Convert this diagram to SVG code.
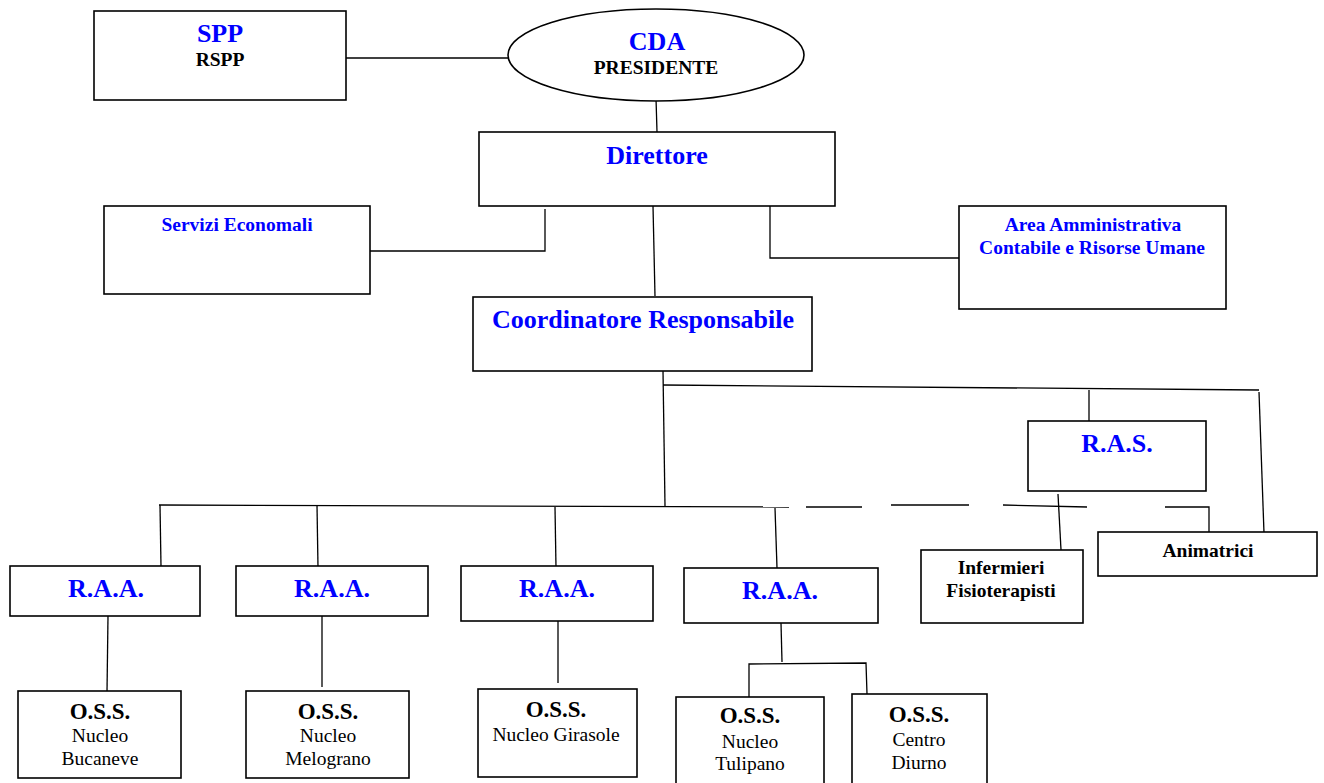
<svg xmlns="http://www.w3.org/2000/svg" width="1324" height="783" viewBox="0 0 1324 783">
<style>
.box{fill:#fff;stroke:#000;stroke-width:1.6}
.ln{stroke:#000;stroke-width:1.3;fill:none}
.t{font-family:"Liberation Serif","Times New Roman",serif;text-anchor:middle}
.big{font-size:26px;font-weight:bold;fill:#0000ff}
.mid{font-size:19.5px;font-weight:bold;fill:#0000ff}
.sub{font-size:19.5px;font-weight:bold;fill:#000}
.oss{font-size:23px;font-weight:bold;fill:#000}
.reg{font-size:19.5px;fill:#000}
</style>
<rect width="1324" height="783" fill="#fff"/>
<g id="connectors">
<line class="ln" x1="346" y1="58" x2="509" y2="58"/>
<line class="ln" x1="656" y1="98" x2="657" y2="132"/>
<polyline class="ln" points="545,209 545,251 370,251"/>
<line class="ln" x1="653" y1="206" x2="655" y2="296"/>
<polyline class="ln" points="770,206 770,258 959,258"/>
<line class="ln" x1="663" y1="371" x2="665" y2="506"/>
<line class="ln" x1="663" y1="385" x2="1259" y2="390"/>
<line class="ln" x1="1089" y1="390" x2="1089" y2="421"/>
<line class="ln" x1="1259" y1="392" x2="1264" y2="533"/>
<line class="ln" x1="159" y1="505" x2="789" y2="507"/>
<line class="ln" x1="806" y1="507" x2="862" y2="507"/>
<line class="ln" x1="891" y1="505" x2="969" y2="505"/>
<line class="ln" x1="1003" y1="505" x2="1087" y2="507"/>
<polyline class="ln" points="1165,507 1209,507 1209,533"/>
<line class="ln" x1="1058" y1="494" x2="1061" y2="550"/>
<line class="ln" x1="160" y1="505" x2="161" y2="566"/>
<line class="ln" x1="317" y1="505" x2="318" y2="568"/>
<line class="ln" x1="555" y1="507" x2="556" y2="568"/>
<line class="ln" x1="775" y1="508" x2="777" y2="568"/>
<line class="ln" x1="108" y1="616" x2="107" y2="692"/>
<line class="ln" x1="322" y1="616" x2="322" y2="687"/>
<line class="ln" x1="558" y1="621" x2="558" y2="683"/>
<line class="ln" x1="781" y1="623" x2="782" y2="662"/>
<polyline class="ln" points="749,697 749,664 866,663 867,694"/>
</g>
<g id="spp"><rect class="box" x="94" y="11" width="252" height="89"/>
<text class="t big" x="220" y="42">SPP</text><text class="t sub" x="220" y="66">RSPP</text></g>
<g id="cda"><ellipse class="box" cx="656" cy="55" rx="148" ry="46"/>
<text class="t big" x="657" y="50">CDA</text><text class="t sub" x="656" y="74">PRESIDENTE</text></g>
<g id="direttore"><rect class="box" x="479" y="132" width="356" height="74"/>
<text class="t big" x="657" y="164">Direttore</text></g>
<g id="servizi"><rect class="box" x="104" y="206" width="266" height="88"/>
<text class="t mid" x="237" y="231">Servizi Economali</text></g>
<g id="area"><rect class="box" x="959" y="206" width="267" height="103"/>
<text class="t mid" x="1093" y="231">Area Amministrativa</text><text class="t mid" x="1092" y="254">Contabile e Risorse Umane</text></g>
<g id="coordinatore"><rect class="box" x="473" y="297" width="339" height="74"/>
<text class="t big" x="643" y="328">Coordinatore Responsabile</text></g>
<g id="ras"><rect class="box" x="1028" y="421" width="178" height="70"/>
<text class="t big" x="1117" y="452">R.A.S.</text></g>
<g id="animatrici"><rect class="box" x="1098" y="532" width="219" height="44"/>
<text class="t sub" x="1208" y="557">Animatrici</text></g>
<g id="infermieri"><rect class="box" x="921" y="550" width="162" height="73"/>
<text class="t sub" x="1001" y="574">Infermieri</text><text class="t sub" x="1001" y="597">Fisioterapisti</text></g>
<g id="raa1"><rect class="box" x="10" y="566" width="190" height="50"/>
<text class="t big" x="106" y="597">R.A.A.</text></g>
<g id="raa2"><rect class="box" x="236" y="566" width="192" height="50"/>
<text class="t big" x="332" y="597">R.A.A.</text></g>
<g id="raa3"><rect class="box" x="461" y="566" width="192" height="55"/>
<text class="t big" x="557" y="597">R.A.A.</text></g>
<g id="raa4"><rect class="box" x="684" y="568" width="194" height="55"/>
<text class="t big" x="780" y="599">R.A.A.</text></g>
<g id="oss1"><rect class="box" x="18" y="691" width="163" height="87"/>
<text class="t oss" x="100" y="719">O.S.S.</text><text class="t reg" x="100" y="742">Nucleo</text><text class="t reg" x="100" y="765">Bucaneve</text></g>
<g id="oss2"><rect class="box" x="246" y="691" width="163" height="87"/>
<text class="t oss" x="328" y="719">O.S.S.</text><text class="t reg" x="328" y="742">Nucleo</text><text class="t reg" x="328" y="765">Melograno</text></g>
<g id="oss3"><rect class="box" x="478" y="689" width="159" height="88"/>
<text class="t oss" x="556" y="717">O.S.S.</text><text class="t reg" x="556" y="741">Nucleo Girasole</text></g>
<g id="oss4"><rect class="box" x="676" y="697" width="148" height="90"/>
<text class="t oss" x="750" y="723">O.S.S.</text><text class="t reg" x="750" y="748">Nucleo</text><text class="t reg" x="750" y="770">Tulipano</text></g>
<g id="oss5"><rect class="box" x="852" y="694" width="135" height="93"/>
<text class="t oss" x="919" y="722">O.S.S.</text><text class="t reg" x="919" y="746">Centro</text><text class="t reg" x="919" y="769">Diurno</text></g>
</svg>
